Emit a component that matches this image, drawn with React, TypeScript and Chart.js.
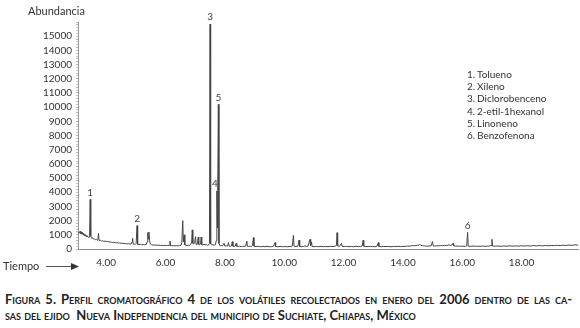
import React, { useEffect, useRef } from "react";
import { Chart, registerables } from "chart.js";

Chart.register(...registerables);

// Retention time (min) and abundance of the chromatogram trace
const retentionTimes = [
  3.06, 3.08, 3.10, 3.12, 3.14, 3.16, 3.18, 3.20, 3.22, 3.24, 3.26, 3.28, 3.30, 3.32, 3.35, 3.38, 3.41, 3.44, 3.46, 3.48,
  3.51, 3.54, 3.57, 3.60, 3.63, 3.67, 3.70, 3.72, 3.74, 3.76, 3.80, 3.84, 3.88, 3.92, 3.96, 4.00, 4.05, 4.10, 4.15, 4.20,
  4.25, 4.30, 4.35, 4.40, 4.45, 4.50, 4.55, 4.60, 4.65, 4.70, 4.75, 4.80, 4.84, 4.87, 4.89, 4.91, 4.95, 4.98, 5.01, 5.04,
  5.06, 5.10, 5.15, 5.20, 5.25, 5.30, 5.35, 5.38, 5.40, 5.42, 5.44, 5.46, 5.49, 5.53, 5.58, 5.63, 5.68, 5.73, 5.78, 5.83,
  5.88, 5.93, 5.98, 6.03, 6.08, 6.12, 6.15, 6.17, 6.22, 6.27, 6.32, 6.37, 6.42, 6.47, 6.52, 6.55, 6.58, 6.60, 6.63, 6.65,
  6.69, 6.73, 6.77, 6.81, 6.85, 6.88, 6.90, 6.92, 6.95, 6.98, 7.01, 7.03, 7.06, 7.08, 7.10, 7.12, 7.15, 7.18, 7.20, 7.22,
  7.26, 7.30, 7.33, 7.37, 7.41, 7.45, 7.48, 7.50, 7.52, 7.56, 7.60, 7.64, 7.68, 7.71, 7.73, 7.75, 7.78, 7.80, 7.84, 7.88,
  7.92, 7.97, 8.00, 8.05, 8.09, 8.12, 8.14, 8.18, 8.22, 8.25, 8.27, 8.31, 8.35, 8.38, 8.40, 8.45, 8.50, 8.55, 8.60, 8.65,
  8.70, 8.74, 8.76, 8.80, 8.85, 8.90, 8.93, 8.96, 8.98, 9.05, 9.12, 9.20, 9.28, 9.35, 9.42, 9.50, 9.58, 9.64, 9.69, 9.71,
  9.78, 9.86, 9.94, 10.02, 10.10, 10.20, 10.27, 10.31, 10.33, 10.40, 10.46, 10.50, 10.52, 10.58, 10.65, 10.70, 10.75, 10.80, 10.87, 10.89,
  10.92, 10.94, 11.00, 11.08, 11.16, 11.24, 11.32, 11.40, 11.48, 11.56, 11.64, 11.72, 11.76, 11.78, 11.80, 11.86, 11.93, 11.95, 12.02, 12.10,
  12.18, 12.26, 12.34, 12.42, 12.50, 12.58, 12.63, 12.66, 12.68, 12.75, 12.83, 12.90, 12.98, 13.06, 13.13, 13.17, 13.19, 13.27, 13.35, 13.43,
  13.51, 13.60, 13.68, 13.76, 13.84, 13.92, 14.00, 14.08, 14.16, 14.24, 14.32, 14.40, 14.48, 14.54, 14.57, 14.60, 14.66, 14.72, 14.80, 14.88,
  14.95, 15.00, 15.02, 15.08, 15.14, 15.20, 15.27, 15.34, 15.41, 15.48, 15.55, 15.60, 15.65, 15.69, 15.71, 15.78, 15.86, 15.94, 16.02, 16.10,
  16.15, 16.18, 16.20, 16.28, 16.36, 16.44, 16.52, 16.60, 16.68, 16.76, 16.84, 16.92, 16.97, 17.00, 17.02, 17.10, 17.20, 17.30, 17.40, 17.50,
  17.60, 17.70, 17.80, 17.90, 18.00, 18.10, 18.20, 18.30, 18.40, 18.50, 18.60, 18.70, 18.80, 18.90, 19.00, 19.10, 19.20, 19.30, 19.40, 19.50,
  19.60, 19.70, 19.80, 19.90,
];

const abundance = [
  1100, 1200, 1150, 1250, 1100, 1200, 1050, 1150, 1000, 1100, 950, 1050, 900, 950, 850, 900, 800, 850, 3500, 900,
  750, 800, 700, 720, 650, 680, 620, 650, 1100, 600, 620, 560, 580, 540, 560, 520, 540, 490, 500, 460,
  480, 440, 450, 420, 430, 400, 410, 380, 390, 360, 370, 350, 360, 500, 750, 340, 350, 330, 400, 1650,
  330, 320, 330, 300, 310, 290, 320, 500, 1150, 700, 1200, 600, 350, 290, 280, 270, 280, 260, 270, 250,
  260, 240, 250, 240, 250, 260, 550, 240, 230, 240, 220, 230, 220, 240, 260, 450, 2000, 500, 1000, 300,
  260, 240, 270, 250, 320, 500, 1350, 400, 350, 450, 870, 350, 320, 400, 840, 330, 300, 350, 840, 300,
  280, 350, 280, 320, 260, 280, 400, 15850, 350, 280, 300, 260, 300, 600, 4100, 1500, 10200, 400, 220, 250,
  220, 400, 200, 230, 200, 450, 210, 190, 220, 520, 200, 180, 210, 400, 190, 180, 200, 170, 190, 180,
  200, 560, 190, 180, 200, 180, 250, 800, 200, 170, 190, 160, 180, 160, 180, 160, 170, 200, 450, 180,
  160, 180, 160, 170, 160, 180, 200, 960, 200, 170, 200, 630, 180, 160, 180, 220, 180, 200, 680, 250,
  500, 180, 160, 180, 160, 190, 160, 180, 160, 190, 170, 200, 250, 1150, 220, 180, 400, 180, 170, 190,
  160, 180, 160, 190, 170, 180, 220, 610, 200, 170, 190, 170, 180, 160, 200, 450, 180, 160, 180, 170,
  180, 160, 180, 170, 190, 170, 190, 180, 210, 200, 240, 230, 260, 280, 330, 260, 240, 220, 200, 210,
  230, 520, 220, 210, 230, 220, 250, 230, 260, 240, 300, 250, 280, 400, 220, 200, 210, 190, 200, 190,
  220, 1170, 200, 190, 210, 190, 200, 190, 210, 190, 200, 210, 250, 680, 220, 200, 210, 190, 210, 200,
  220, 200, 220, 200, 230, 210, 230, 210, 240, 220, 240, 220, 250, 230, 250, 240, 260, 240, 270, 250,
  280, 260, 290, 270,
];

// Numbered peaks
const peakNumbers = ["1", "2", "3", "4", "5", "6"];
const peakTimes = [3.46, 5.04, 7.5, 7.73, 7.78, 16.18];
const peakHeights = [3500, 1650, 15850, 4100, 10200, 1170];
const compounds = ["Tolueno", "Xileno", "Diclorobenceno", "2-etil-1hexanol", "Linoneno", "Benzofenona"];

// Axes
const timeTicks = [4, 6, 8, 10, 12, 14, 16, 18];
const timeMin = 3.05;
const timeMax = 19.9;
const abundanceMax = 16000;
const abundanceMinorStep = 200;
const abundanceMajorStep = 1000;

const FONT = "Lato, 'Open Sans', sans-serif";

if (typeof document !== "undefined") {
  document.body.style.margin = "0";
}

const decorPlugin = {
  id: "decor",
  afterDatasetsDraw(chart: any) {
    const { ctx, scales } = chart;
    const xs = scales.x;
    const ys = scales.y;
    ctx.save();
    ctx.fillStyle = "#444";
    ctx.font = `10px ${FONT}`;
    ctx.textAlign = "center";
    ctx.textBaseline = "middle";
    peakNumbers.forEach((n, i) => {
      const px = xs.getPixelForValue(peakTimes[i]);
      const py = ys.getPixelForValue(peakHeights[i]);
      const dx = n === "4" ? -2 : 0;
      ctx.fillText(n, px + dx, py - 7);
    });
    ctx.restore();
  },
  afterDraw(chart: any) {
    const { ctx } = chart;
    ctx.save();
    ctx.fillStyle = "#333";
    ctx.textBaseline = "middle";
    ctx.textAlign = "left";
    ctx.font = `11px ${FONT}`;
    ctx.fillText("Abundancia", 28, 11);
    ctx.fillText("Tiempo", 3, 266);
    // arrow
    ctx.strokeStyle = "#555";
    ctx.lineWidth = 1;
    ctx.beginPath();
    ctx.moveTo(46, 266.5);
    ctx.lineTo(72, 266.5);
    ctx.stroke();
    ctx.fillStyle = "#333";
    ctx.beginPath();
    ctx.moveTo(71, 263);
    ctx.lineTo(79, 266.5);
    ctx.lineTo(71, 270);
    ctx.closePath();
    ctx.fill();
    // compound list
    ctx.fillStyle = "#333";
    ctx.font = `10px ${FONT}`;
    compounds.forEach((c, i) => {
      const y = 74.5 + i * 12.3;
      ctx.fillText(`${i + 1}.`, 467, y);
      ctx.fillText(c, 477, y);
    });
    ctx.restore();
  },
};

export default function App() {
  const ref = useRef<HTMLCanvasElement | null>(null);

  useEffect(() => {
    if (!ref.current) return;
    const points = retentionTimes.map((t, i) => ({ x: t, y: abundance[i] }));
    const chart = new Chart(ref.current, {
      type: "line",
      data: {
        datasets: [
          {
            data: points,
            borderColor: "#444",
            borderWidth: 1,
            pointRadius: 0,
            tension: 0,
            fill: false,
          },
        ],
      },
      options: {
        animation: false,
        responsive: false,
        maintainAspectRatio: false,
        events: [],
        layout: { padding: { top: 22, right: 2, left: 0, bottom: 0 } },
        plugins: { legend: { display: false }, tooltip: { enabled: false } },
        scales: {
          x: {
            type: "linear",
            min: timeMin,
            max: timeMax,
            afterBuildTicks: (s: any) => {
              s.ticks = timeTicks.map((v) => ({ value: v }));
            },
            afterFit: (s: any) => {
              s.height = 26;
            },
            grid: { display: false, drawTicks: false },
            border: { display: true, color: "#8a8a8a", width: 1 },
            ticks: {
              callback: (v: any) => Number(v).toFixed(2),
              font: { family: FONT, size: 10 },
              color: "#333",
              padding: 8,
              maxRotation: 0,
              autoSkip: false,
            },
          },
          y: {
            type: "linear",
            min: 0,
            max: abundanceMax,
            afterBuildTicks: (s: any) => {
              const t = [];
              for (let v = 0; v <= abundanceMax; v += abundanceMinorStep) t.push({ value: v });
              s.ticks = t;
            },
            afterFit: (s: any) => {
              s.width = 78;
            },
            grid: { drawOnChartArea: false, tickLength: 2, color: "#c4c4c4" },
            border: { display: true, color: "#999", width: 1 },
            ticks: {
              autoSkip: false,
              callback: (v: any) =>
                v % abundanceMajorStep === 0 && v < abundanceMax ? String(v) : "",
              font: { family: FONT, size: 10 },
              color: "#333",
              padding: 4,
            },
          },
        },
      },
      plugins: [decorPlugin],
    });
    return () => chart.destroy();
  }, []);

  const capStyle: React.CSSProperties = {
    fontFamily: FONT,
    fontWeight: 700,
    fontVariant: "small-caps",
    fontSize: "13px",
    color: "#222",
    lineHeight: "16px",
    whiteSpace: "nowrap",
  };

  return (
    <div style={{ position: "relative", width: 580, height: 328, background: "#fff", overflow: "hidden" }}>
      <canvas ref={ref} width={580} height={275} style={{ display: "block", width: 580, height: 275 }} />
      <div style={{ position: "absolute", left: 5, top: 291, width: 567 }}>
        <div style={{ ...capStyle, textAlign: "justify", textAlignLast: "justify" as any, whiteSpace: "normal" }}>
          Figura 5. Perfil cromatográfico 4 de los volátiles recolectados en enero del 2006 dentro de las ca-
        </div>
        <div style={capStyle}>
          sas del ejido&nbsp; Nueva Independencia del municipio de Suchiate, Chiapas, México
        </div>
      </div>
    </div>
  );
}
